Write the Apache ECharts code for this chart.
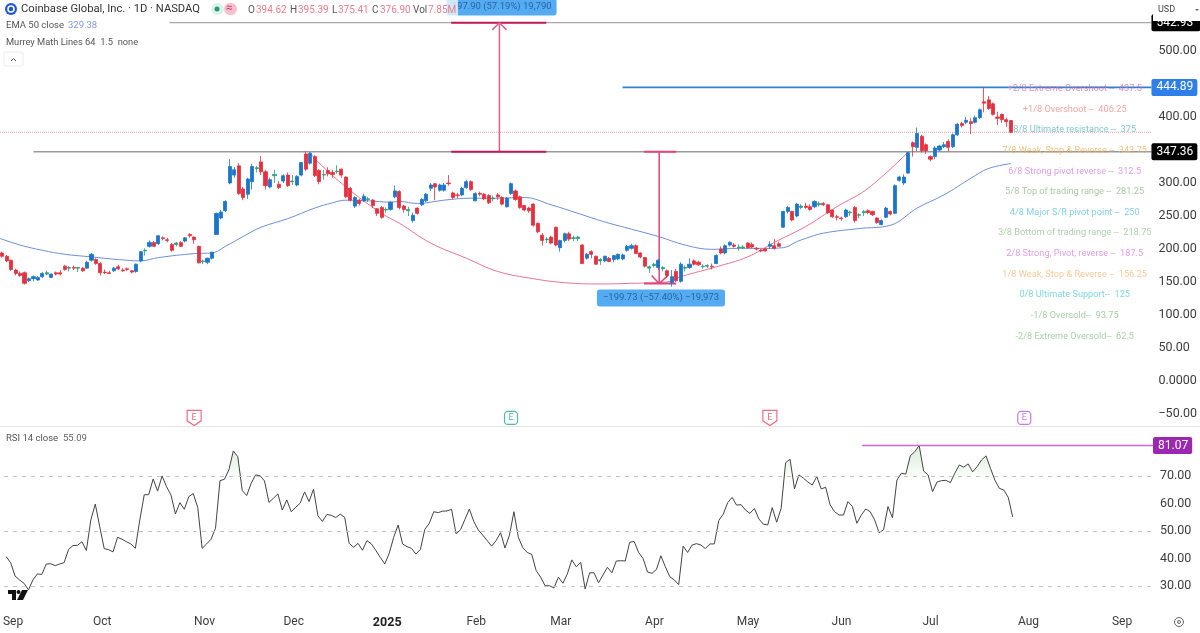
<!DOCTYPE html>
<html>
<head>
<meta charset="utf-8">
<style>html,body{margin:0;padding:0;background:#fff}#main{width:1200px;height:633px}</style>
<script src="https://cdn.jsdelivr.net/npm/echarts@6/dist/echarts.min.js"></script>
</head>
<body>
<div id="main"></div>
<script>
// [open, close, low, high]
var candles=[
[194,189,187,196],[189,182,180,191],[183,169,167,184],[168,163,160,170],[163,160,158,166],[164,148,146,166],[152,155,150,157],[155,158,151,160],[153,157,152,159],[158,163,156,165],
[162,164,160,167],[157,162,156,163],[164,162,160,166],[164,162,160,168],[174,169,167,176],[171,172,166,174],[172,171,168,175],[171,172,165,173],[171,167,165,173],[171,180,170,182],
[183,192,181,194],[184,178,176,186],[178,164,160,180],[165,164,162,169],[164,163,162,167],[167,171,165,173],[173,170,168,176],[168,167,165,171],[170,169,167,172],[167,165,163,168],
[166,177,164,178],[182,196,180,197],[197,198,190,201],[204,210,202,213],[210,204,203,212],[208,220,206,221],[217,216,213,219],[214,213,210,217],[207,198,196,209],[207,209,204,211],
[210,204,203,212],[212,217,210,218],[222,220,217,224],[218,214,208,219],[204,179,178,205],[181,182,177,184],[180,186,177,187],[186,195,184,196],[222,254,222,255],[247,256,245,259],
[258,272,256,274],[300,325,298,336],[312,320,308,324],[326,284,282,330],[291,278,274,294],[283,306,276,308],[302,325,290,329],[322,323,316,326],[332,317,312,341],[317,296,290,320],
[294,305,292,308],[311,313,300,320],[298,293,291,303],[303,311,300,313],[312,296,294,316],[302,303,297,312],[297,310,295,312],[312,331,310,332],[344,321,318,348],[330,345,328,347],
[340,311,309,342],[319,302,298,321],[312,313,305,320],[319,314,310,324],[316,313,308,320],[317,318,314,327],[321,312,308,322],[309,279,277,310],[292,274,272,294],[265,278,262,280],
[274,269,266,276],[273,280,271,284],[275,276,271,279],[274,266,262,276],[261,254,250,262],[263,248,246,265],[259,260,255,263],[260,271,258,272],[279,288,277,296],[287,263,260,289],
[265,260,255,267],[258,260,250,264],[243,251,240,255],[262,254,252,263],[267,275,265,277],[273,283,271,285],[292,297,288,300],[299,294,274,300],[289,297,287,299],[289,297,287,300],
[300,299,296,312],[285,278,275,287],[282,281,277,285],[282,292,280,294],[293,302,291,305],[302,290,288,304],[273,284,272,286],[284,283,280,287],[283,276,274,285],[281,270,268,283],
[276,277,272,281],[282,279,274,285],[278,268,266,280],[264,277,263,279],[284,299,282,301],[288,275,273,290],[279,263,261,281],[266,259,257,267],[262,258,255,264],[268,236,234,269],
[239,226,224,240],[221,213,205,224],[214,215,209,218],[218,209,207,220],[233,206,204,234],[202,213,196,214],[213,223,210,225],[223,215,212,226],[216,217,212,220],[216,218,212,220],
[206,178,177,207],[186,192,184,194],[196,192,186,198],[189,177,176,190],[182,184,176,186],[182,189,180,190],[186,181,180,188],[184,190,180,191],[185,192,183,193],[185,191,183,193],
[198,204,196,206],[201,205,199,208],[205,193,192,207],[194,188,186,195],[187,174,172,188],[171,173,164,175],[175,177,172,179],[172,183,168,185],[170,172,166,174],[167,160,156,169],
[149,158,143,168],[166,152,150,170],[151,177,149,180],[171,172,166,175],[172,177,170,186],[182,177,175,184],[180,176,174,182],[173,174,170,177],[174,175,171,177],[174,173,169,178],
[178,190,177,192],[200,194,192,204],[194,205,192,207],[206,210,204,212],[206,204,202,209],[202,203,198,207],[202,203,200,206],[209,202,201,210],[207,203,201,210],[201,200,198,203],
[198,197,195,200],[200,197,196,202],[204,207,200,212],[205,201,199,215],[208,204,203,211],[233,257,232,258],[257,263,254,265],[257,244,242,258],[250,268,248,270],[263,265,260,268],
[265,263,261,270],[264,260,258,268],[264,272,262,274],[267,269,264,272],[269,267,265,271],[267,255,253,268],[259,249,247,260],[249,248,243,252],[247,246,243,249],[249,259,247,261],
[255,256,250,258],[263,243,240,265],[251,252,247,254],[255,257,250,259],[258,255,253,260],[257,252,250,258],[247,240,238,248],[237,243,236,245],[248,262,247,264],[257,253,251,258],
[254,296,253,298],[304,309,302,311],[300,309,297,313],[315,346,314,347],[361,355,340,363],[354,375,348,384],[371,349,346,373],[358,349,344,360],[340,336,333,342],[340,353,336,356],
[350,356,348,358],[355,358,353,362],[363,354,348,366],[355,373,353,375],[373,389,371,391],[390,387,384,393],[392,395,389,400],[393,390,374,398],[392,399,390,402],[399,411,397,413],
[423,421,407,444.89],[426,413,411,432],[420,404,402,422],[400,398,388,408],[404,396,391,405],[396,393,385,399],[394.62,376.9,375.41,395.39]
];
var rsi=[
40.7,38.5,33.6,32.2,31.0,28.6,32.2,34.4,34.2,38.0,38.1,37.4,38.0,38.5,43.3,44.7,44.8,46.1,42.9,54.0,
59.8,51.6,43.6,43.2,42.4,47.7,47.0,46.1,45.3,43.7,54.0,63.2,63.2,68.9,64.5,70.0,66.1,63.1,56.2,60.3,
57.9,62.5,63.6,58.6,43.7,45.3,47.0,51.0,68.3,68.8,72.2,79.1,77.0,64.7,62.9,67.3,70.4,70.1,68.2,60.4,
61.9,63.5,57.6,61.3,57.0,58.6,60.1,64.2,60.7,65.2,55.5,53.5,56.0,55.7,54.9,56.1,55.0,45.5,44.1,45.5,
43.0,46.5,45.3,42.9,40.4,38.0,41.9,47.7,52.2,45.3,44.3,43.7,41.6,43.3,50.6,52.8,57.0,56.7,57.2,57.3,
57.9,49.0,50.4,54.2,58.0,53.4,50.4,48.5,46.5,44.5,46.5,49.4,43.8,48.5,57.0,47.7,43.9,42.2,41.5,35.6,
33.2,30.1,30.1,29.3,33.2,31.0,34.4,39.5,37.0,38.6,28.9,34.8,34.8,31.2,34.0,36.8,34.8,39.1,39.2,39.1,
45.9,46.2,42.2,40.0,35.1,34.6,36.0,41.0,37.0,33.4,32.2,30.5,44.5,42.2,44.9,45.4,44.9,43.6,45.3,45.3,
53.8,56.1,60.3,62.2,59.4,59.6,57.6,56.4,58.2,54.4,52.5,52.2,58.5,53.2,58.2,74.8,76.1,65.3,70.4,69.2,
67.8,66.7,69.8,65.3,65.9,59.5,57.0,55.8,55.8,60.7,58.9,52.8,55.8,58.0,57.0,54.0,49.4,50.4,58.9,54.8,
68.5,71.0,70.7,77.3,78.8,81.07,71.8,70.4,64.3,67.8,68.3,68.4,67.6,71.0,74.0,73.2,74.4,71.5,73.4,75.8,
77.3,72.8,68.5,65.5,64.9,62.2,55.09
];
// [bar, value]
var ema50=[[-0.5,216],[4,206],[9,198],[14,192],[20,188],[26,184],[31,182],[35,187],[43,193],[47,194],[50,204],[54,219],[58,233],[64,246],[70,262],[74,270],[77,274],[82,273],[87,271],[89,272],[93,269],[99,274],[105,277],[111,277],[117,278],[123,267],[129,254],[135,241],[141,230],[147,219],[153,206],[159,199.5],[165,201],[171,201],[175,202],[178,211],[180,216],[184,224],[192,231],[199,236],[205,262],[211,282],[217,307],[221,322],[226,329.38]];
var arcLine=[[69,347],[70,337],[77,294],[85,254],[89,239],[96,209],[104,186],[111,166],[119,155],[126,149],[134,147],[141,148],[149,150],[152,158],[160,173],[167,188],[173,210],[180,234],[187,264],[194,292],[203,347]];

var monthIdx=[2,22,45,65,86,106,125,146,167,188,208,230,251];
var monthNames=['Sep','Oct','Nov','Dec','2025','Feb','Mar','Apr','May','Jun','Jul','Aug','Sep'];
var priceTicks=[500,400,300,250,200,150,100,50,0,-50];
var rsiTicks=[30,40,50,60,70];
var rsiBands=[30,50,70];

var murreyLevels=[437.5,406.25,375,343.75,312.5,281.25,250,218.75,187.5,156.25,125,93.75,62.5];
var murreyText=['+2/8 Extreme Overshoot --  437.5','+1/8 Overshoot --  406.25','8/8 Ultimate resistance --  375','7/8 Weak, Stop & Reverse --  343.75','6/8 Strong pivot reverse --  312.5','5/8 Top of trading range --  281.25','4/8 Major S/R pivot point --  250','3/8 Bottom of trading range --  218.75','2/8 Strong, Pivot, reverse --  187.5','1/8 Weak, Stop & Reverse --  156.25','0/8 Ultimate Support--  125','-1/8 Oversold--  93.75','-2/8 Extreme Oversold--  62.5'];
var murreyColors=['#cf74ab','#ee8f8f','#62b9c6','#eeb161','#d985e6','#93bf8c','#6cc3dc','#9cc39c','#d985e6','#f4bd80','#5fcad8','#95c095','#90cc90'];

var earningsIdx=[43,114,172,229];
var earningsColors=['#e2475c','#26a69a','#e2475c','#bb55dd'];

var FONT='Roboto';
var UP='#1b76c9',DOWN='#e5303f',DOJI_UP='#2a9d78';
var BARS=258;

var categories=[];
for(var i=0;i<BARS;i++){
    var m=monthIdx.indexOf(i);
    categories.push(m>=0?monthNames[m]:'b'+i);
}
var candleData=candles.map(function(c){
    if(c[1]>=c[0] && c[1]-c[0]<3){
        return {value:c,itemStyle:{color:DOJI_UP,borderColor:DOJI_UP}};
    }
    return {value:c};
});

function levelLine(start,value,lineColor,tagColor,width,rightPad){
    return {
        type:'line',xAxisIndex:2,yAxisIndex:0,symbol:'none',silent:true,z:3,
        data:[[start,value],[BARS-0.5,value]],
        lineStyle:{color:lineColor,width:width},
        endLabel:{show:true,position:'right',distance:0,formatter:value.toFixed(2),color:'#fff',backgroundColor:tagColor,
            padding:[3,rightPad,2,5],borderRadius:2,fontFamily:FONT,fontSize:12}
    };
}
function seg(points,color,width){
    return {type:'line',xAxisIndex:2,yAxisIndex:0,symbol:'none',silent:true,z:4,data:points,lineStyle:{color:color,width:width}};
}
function boxLabel(idx,value,text,pad){
    return {
        type:'scatter',xAxisIndex:2,yAxisIndex:0,symbolSize:0,silent:true,z:6,clip:false,data:[[idx,value]],
        label:{show:true,position:'inside',formatter:text,color:'#17528f',backgroundColor:'#2a96ee',padding:[4,pad,3,pad],borderRadius:3,fontFamily:FONT,fontSize:9.5}
    };
}

var chart=echarts.init(document.getElementById('main'),null,{renderer:'canvas'});
var option={
    animation:false,
    backgroundColor:'#fff',
    grid:[
        {left:0,top:0,width:1153,height:426},
        {left:0,top:427,width:1153,height:178}
    ],
    xAxis:[
        {type:'category',gridIndex:0,data:categories,axisLine:{show:false},axisTick:{show:false},axisLabel:{show:false},splitLine:{show:false}},
        {type:'category',gridIndex:1,data:categories,axisLine:{show:false},axisTick:{show:false},splitLine:{show:false},
            axisLabel:{
                margin:11,fontFamily:FONT,fontSize:12,color:'#3d3d3d',padding:[0,4,0,0],
                interval:function(i){return monthIdx.indexOf(i)>=0;},
                formatter:function(v){return v==='2025'?'{b|2025}':v;},
                rich:{b:{fontFamily:FONT,fontSize:12.5,fontWeight:'bold',color:'#222'}}
            }},
        // hidden bar-number axes for overlays that sit between bars
        {type:'value',gridIndex:0,min:-0.5,max:BARS-0.5,show:false},
        {type:'value',gridIndex:1,min:-0.5,max:BARS-0.5,show:false}
    ],
    yAxis:[
        {type:'value',gridIndex:0,position:'right',min:-68.2,max:577.3,axisLine:{show:false},axisTick:{show:false},splitLine:{show:false},
            axisLabel:{customValues:priceTicks,margin:7,padding:[3,0,0,0],fontFamily:FONT,fontSize:12.5,color:'#3d3d3d',
                formatter:function(v){
                    if(v===0)return '0.0000';
                    return v<0?'\u2212'+Math.abs(v).toFixed(2):v.toFixed(2);
                }}},
        {type:'value',gridIndex:1,position:'right',min:23.1,max:87.8,axisLine:{show:false},axisTick:{show:false},splitLine:{show:false},
            axisLabel:{customValues:rsiTicks,margin:7,padding:[3,0,0,0],fontFamily:FONT,fontSize:12.5,color:'#3d3d3d',
                formatter:function(v){return v.toFixed(2);}}}
    ],
    series:[
        levelLine(37.5,542.93,'#a8a8a8','#000',1.2,7),
        levelLine(139,444.89,'#2f7fd6','#2f7fe8',1.6,4),
        levelLine(7,347.36,'#9a9a9a','#000',1.4,4),
        {type:'line',xAxisIndex:2,yAxisIndex:0,symbol:'none',silent:true,z:2,data:[[-0.5,376.9],[BARS-0.5,376.9]],lineStyle:{color:'#f0a0a8',width:1,type:'dotted'}},
        {type:'line',xAxisIndex:2,yAxisIndex:0,symbol:'none',silent:true,z:3,smooth:0.4,data:ema50,lineStyle:{color:'#6f8fd8',width:1}},
        {type:'line',xAxisIndex:2,yAxisIndex:0,symbol:'none',silent:true,z:3,smooth:0.4,data:arcLine,lineStyle:{color:'#e8748f',width:1}},
        {type:'candlestick',xAxisIndex:0,yAxisIndex:0,silent:true,z:5,barWidth:3.6,data:candleData,
            itemStyle:{color:UP,color0:DOWN,borderColor:UP,borderColor0:DOWN,borderWidth:0.8}},
        // long position: upper measure
        seg([[111.4,347.36],[111.4,542.93]],'#d9618a',1.5),
        seg([[100.6,347.36],[121.9,347.36]],'#c2185b',2),
        seg([[100.6,542.93],[121.9,542.93]],'#c2185b',2),
        seg([[109.8,532],[111.4,542.93],[113,532]],'#d9618a',1.5),
        // short position: lower measure
        seg([[147.2,347.36],[147.2,147.63]],'#e0457b',1.5),
        seg([[143.8,347.36],[151,347.36]],'#e0457b',2),
        seg([[143.8,147.63],[151,147.63]],'#e0457b',2),
        seg([[145.5,160],[147.2,147.63],[149.2,160]],'#e0457b',1.5),
        boxLabel(111.9,566.7,'197.90 (57.19%) 19,790',5),
        boxLabel(147.6,125.8,'\u2212199.73 (\u221257.40%) \u221219,973',6),
        {
            type:'scatter',xAxisIndex:2,yAxisIndex:0,symbolSize:0,silent:true,z:4,clip:false,
            data:murreyLevels.map(function(v,k){
                return {value:[240.3,v],label:{color:murreyColors[k]}};
            }),
            label:{show:true,position:'top',distance:0,offset:[0,1],fontFamily:FONT,fontSize:9.2,
                formatter:function(p){return murreyText[p.dataIndex];}}
        },
        {
            type:'scatter',xAxisIndex:2,yAxisIndex:0,silent:true,z:4,clip:false,
            data:earningsIdx.map(function(idx,k){
                var isSquare=k==1||k==3;
                return {
                    value:[idx,-56],
                    symbol:isSquare?'roundRect':'path://M1 1H13V10L7 14L1 10Z',
                    symbolSize:isSquare?[13,13]:[14,15],
                    itemStyle:{color:'#fff',borderColor:earningsColors[k],borderWidth:1.2},
                    label:{show:true,position:'inside',formatter:'E',fontSize:9,fontFamily:FONT,color:earningsColors[k]}
                };
            })
        },
        {
            type:'line',xAxisIndex:1,yAxisIndex:1,symbol:'none',silent:true,z:3,data:rsi,
            lineStyle:{color:'#444',width:1},
            areaStyle:{origin:70,color:new echarts.graphic.LinearGradient(0,445,0,586,[
                {offset:0,color:'rgba(76,175,80,0.32)'},
                {offset:0.22,color:'rgba(76,175,80,0.04)'},
                {offset:0.2201,color:'rgba(76,175,80,0)'},
                {offset:1,color:'rgba(76,175,80,0)'}
            ],true)},
            markLine:{silent:true,symbol:'none',label:{show:false},lineStyle:{color:'#c4c4c4',width:1,type:[4,5]},
                data:rsiBands.map(function(v){return {yAxis:v};})}
        },
        {
            type:'line',xAxisIndex:3,yAxisIndex:1,symbol:'none',silent:true,z:4,
            data:[[192.2,81.07],[BARS-0.5,81.07]],lineStyle:{color:'#c56ad6',width:1.3},
            endLabel:{show:true,position:'right',distance:0,formatter:'81.07',color:'#fff',backgroundColor:'#9c27b0',padding:[3,4,2,5],borderRadius:2,fontFamily:FONT,fontSize:12}
        }
    ],
    graphic:{elements:[
        // header sits over the chart
        {type:'rect',z:20,shape:{x:0,y:0,width:458,height:17},style:{fill:'rgba(255,255,255,0.72)'}},
        {type:'rect',z:20,shape:{x:1153,y:0,width:47,height:21},style:{fill:'#fff'}},
        {type:'line',z:20,shape:{x1:0,y1:426.5,x2:1200,y2:426.5},style:{stroke:'#e6e6e6',lineWidth:1}},
        {type:'circle',z:21,shape:{cx:11,cy:9,r:6},style:{fill:'#1d56d8'}},
        {type:'circle',z:22,shape:{cx:11,cy:9,r:3},style:{fill:'#1d56d8',stroke:'#fff',lineWidth:1.6}},
        {type:'text',z:21,x:21,y:4,style:{text:'Coinbase Global, Inc. \u00b7 1D \u00b7 NASDAQ',fill:'#333',font:'11.2px '+FONT}},
        {type:'rect',z:21,shape:{x:211,y:3,width:13,height:12,r:6},style:{fill:'#dff3ec'}},
        {type:'circle',z:22,shape:{cx:217,cy:9,r:2.5},style:{fill:'#1f9d74'}},
        {type:'rect',z:21,shape:{x:224,y:3,width:13,height:12,r:6},style:{fill:'#f6bfd0'}},
        {type:'text',z:22,x:226,y:3,style:{text:'\u2248',fill:'#d4386a',font:'11px '+FONT}},
        {type:'text',z:21,x:248,y:5,style:{text:'O',fill:'#555',font:'10px '+FONT}},
        {type:'text',z:21,x:256,y:5,style:{text:'394.62',fill:'#ea7e8c',font:'10px '+FONT}},
        {type:'text',z:21,x:290,y:5,style:{text:'H',fill:'#555',font:'10px '+FONT}},
        {type:'text',z:21,x:298,y:5,style:{text:'395.39',fill:'#ea7e8c',font:'10px '+FONT}},
        {type:'text',z:21,x:332,y:5,style:{text:'L',fill:'#555',font:'10px '+FONT}},
        {type:'text',z:21,x:338,y:5,style:{text:'375.41',fill:'#ea7e8c',font:'10px '+FONT}},
        {type:'text',z:21,x:372,y:5,style:{text:'C',fill:'#555',font:'10px '+FONT}},
        {type:'text',z:21,x:380,y:5,style:{text:'376.90',fill:'#ea7e8c',font:'10px '+FONT}},
        {type:'text',z:21,x:413,y:5,style:{text:'Vol',fill:'#555',font:'10px '+FONT}},
        {type:'text',z:21,x:428,y:5,style:{text:'7.85M',fill:'#ea7e8c',font:'10px '+FONT}},
        {type:'text',z:21,x:6,y:21,style:{text:'EMA 50 close',fill:'#555',font:'9.5px '+FONT}},
        {type:'text',z:21,x:68,y:21,style:{text:'329.38',fill:'#7f9be0',font:'9.5px '+FONT}},
        {type:'text',z:21,x:6,y:38,style:{text:'Murrey Math Lines 64  1.5  none',fill:'#555',font:'9.3px '+FONT}},
        {type:'rect',z:21,shape:{x:4,y:52,width:19,height:14,r:2},style:{fill:'#fff',stroke:'#ececec',lineWidth:1}},
        {type:'polyline',z:22,shape:{points:[[11,61],[13.5,58.5],[16,61]]},style:{stroke:'#444',lineWidth:1,fill:null}},
        {type:'text',z:21,x:1158,y:5,style:{text:'USD',fill:'#444',font:'9px '+FONT}},
        {type:'polygon',z:21,shape:{points:[[1195,9],[1199,9],[1197,11]]},style:{fill:'#666'}},
        {type:'text',z:21,x:6,y:434,style:{text:'RSI 14 close',fill:'#555',font:'9.5px '+FONT}},
        {type:'text',z:21,x:63,y:434,style:{text:'55.09',fill:'#666',font:'9.5px '+FONT}},
        // tradingview mark
        {type:'polygon',z:21,shape:{points:[[8,590],[16,590],[16,600],[12,600],[12,594],[8,594]]},style:{fill:'#111'}},
        {type:'polygon',z:21,shape:{points:[[22,590],[28,590],[23,600],[17,600]]},style:{fill:'#111'}},
        {type:'circle',z:21,shape:{cx:18.5,cy:592,r:2},style:{fill:'#111'}},
        {type:'circle',z:21,shape:{cx:1179,cy:622,r:4.5},style:{fill:'none',stroke:'#666',lineWidth:1}},
        {type:'circle',z:21,shape:{cx:1179,cy:622,r:1.5},style:{fill:'none',stroke:'#666',lineWidth:1}}
    ]}
};
chart.setOption(option);
</script>
</body>
</html>
